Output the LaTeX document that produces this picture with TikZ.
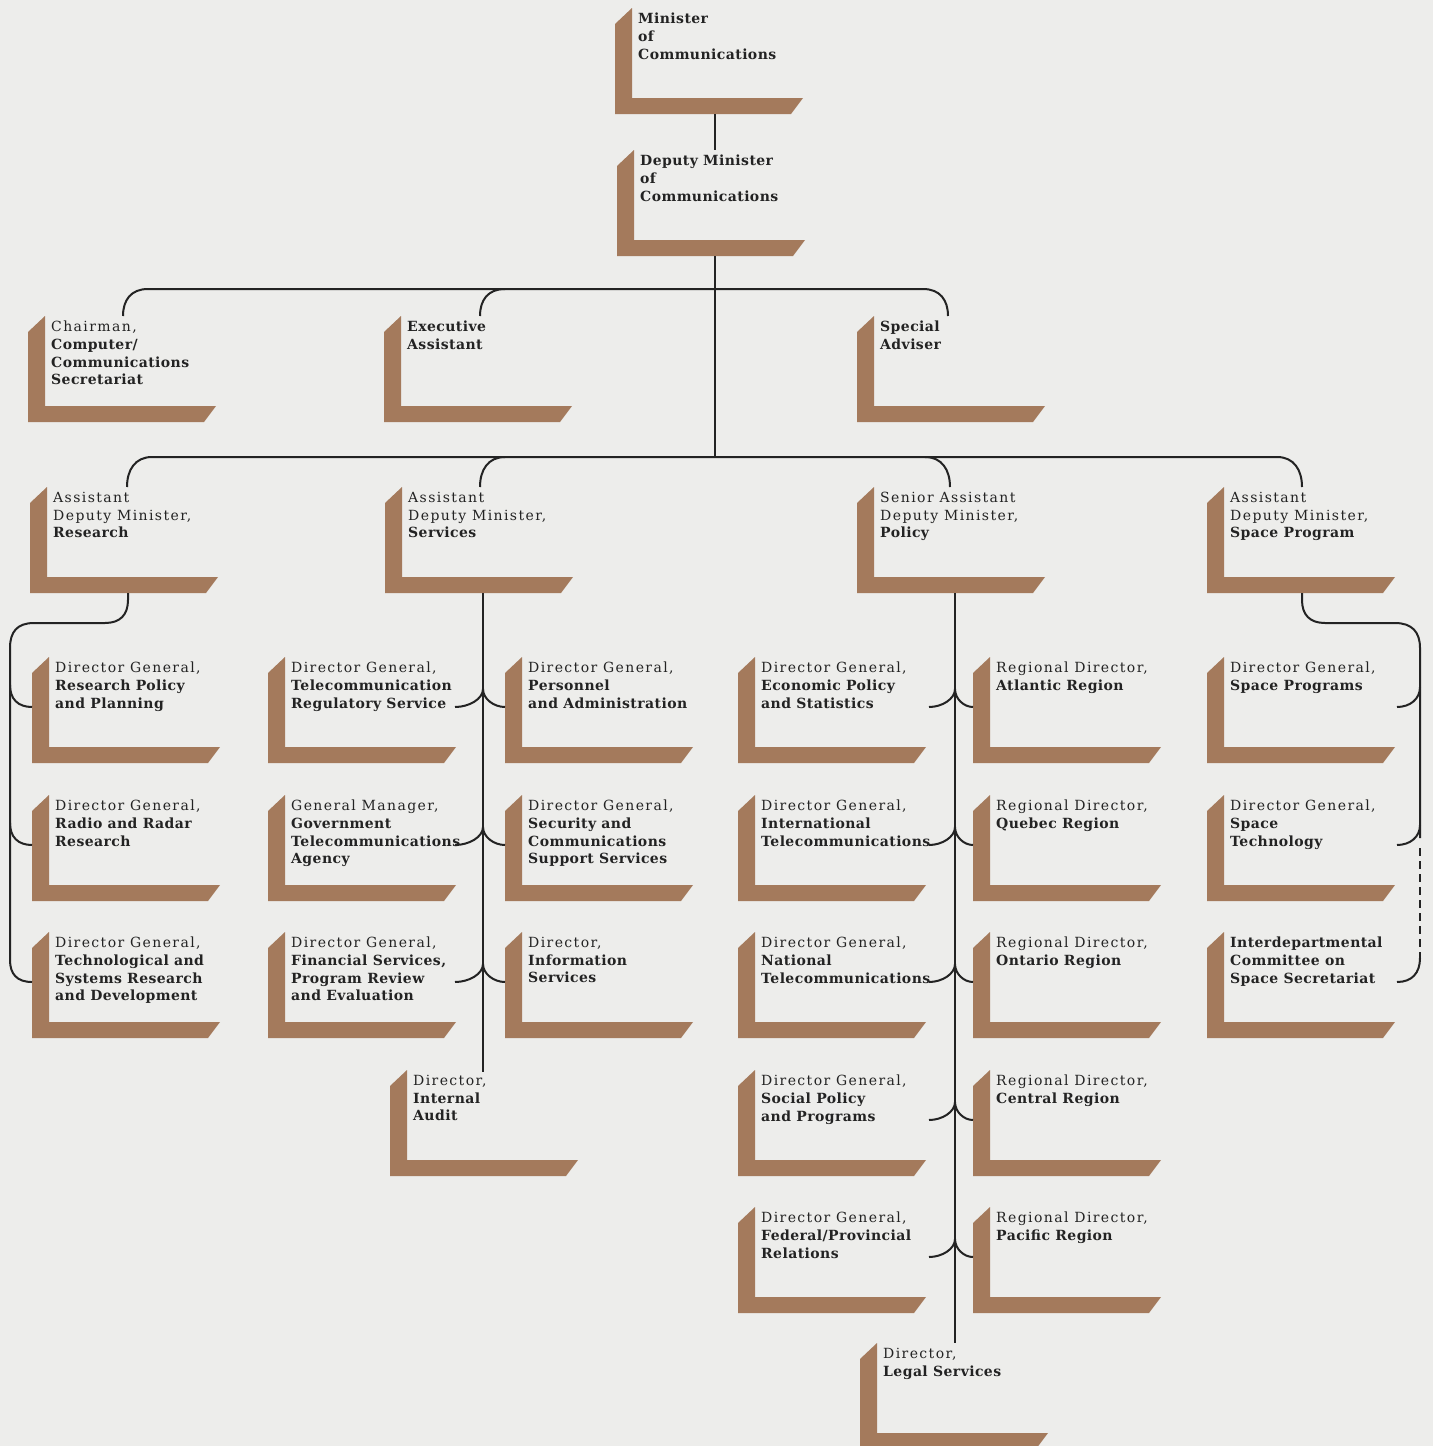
\documentclass[tikz,border=0pt]{standalone}
\usepackage{fontspec}
\setmainfont{DejaVu Serif}[LetterSpace=10, BoldFeatures={LetterSpace=3}]
\definecolor{lbrown}{RGB}{164,122,92}
\definecolor{bgc}{RGB}{237,237,235}
\definecolor{ink}{RGB}{35,35,35}
\newcommand\Lbox[4]{%
  \fill[lbrown] (#2,#3+16) -- (#2+17,#3) -- (#2+17,#3+90) -- (#2+188,#3+90) -- (#2+176,#3+106) -- (#2,#3+106) -- cycle;
  \node[lbl] (#1) at (#2+23,#3+5) {#4};
}
\newcommand\Vbranch[3]{% x of trunk, y of end, x of end
  \draw[conn] (#1,#2-18) .. controls (#1,#2-8) and ({(#1+#3)/2},#2) .. (#3,#2);
}
\begin{document}
\begin{tikzpicture}[x=1pt,y=-1pt,
  conn/.style={draw=ink, line width=2pt},
  lbl/.style={anchor=north west, align=left, inner sep=0pt, text=ink,
    font=\fontsize{14}{17.7}\selectfont}]
\fill[bgc] (0,0) rectangle (1433,1446);
\useasboundingbox (0,0) rectangle (1433,1446);
\clip (0,0) rectangle (1433,1446);

% ---- boxes ----
\Lbox{min}{615}{8}{\textbf{Minister}\\\textbf{of}\\\textbf{Communications}}
\Lbox{dep}{617}{150}{\textbf{Deputy Minister}\\\textbf{of}\\\textbf{Communications}}
\Lbox{chair}{28}{316}{Chairman,\\\textbf{Computer/}\\\textbf{Communications}\\\textbf{Secretariat}}
\Lbox{exec}{384}{316}{\textbf{Executive}\\\textbf{Assistant}}
\Lbox{spec}{857}{316}{\textbf{Special}\\\textbf{Adviser}}
\Lbox{adr}{30}{487}{Assistant\\Deputy Minister,\\\textbf{Research}}
\Lbox{ads}{385}{487}{Assistant\\Deputy Minister,\\\textbf{Services}}
\Lbox{adp}{857}{487}{Senior Assistant\\Deputy Minister,\\\textbf{Policy}}
\Lbox{adsp}{1207}{487}{Assistant\\Deputy Minister,\\\textbf{Space Program}}

\Lbox{a1}{32}{657}{Director General,\\\textbf{Research Policy}\\\textbf{and Planning}}
\Lbox{a2}{32}{795}{Director General,\\\textbf{Radio and Radar}\\\textbf{Research}}
\Lbox{a3}{32}{932}{Director General,\\\textbf{Technological and}\\\textbf{Systems Research}\\\textbf{and Development}}
\Lbox{b1}{268}{657}{Director General,\\\textbf{Telecommunication}\\\textbf{Regulatory Service}}
\Lbox{b2}{268}{795}{General Manager,\\\textbf{Government}\\\textbf{Telecommunications}\\\textbf{Agency}}
\Lbox{b3}{268}{932}{Director General,\\\textbf{Financial Services,}\\\textbf{Program Review}\\\textbf{and Evaluation}}
\Lbox{c1}{505}{657}{Director General,\\\textbf{Personnel}\\\textbf{and Administration}}
\Lbox{c2}{505}{795}{Director General,\\\textbf{Security and}\\\textbf{Communications}\\\textbf{Support Services}}
\Lbox{c3}{505}{932}{Director,\\\textbf{Information}\\\textbf{Services}}
\Lbox{d1}{738}{657}{Director General,\\\textbf{Economic Policy}\\\textbf{and Statistics}}
\Lbox{d2}{738}{795}{Director General,\\\textbf{International}\\\textbf{Telecommunications}}
\Lbox{d3}{738}{932}{Director General,\\\textbf{National}\\\textbf{Telecommunications}}
\Lbox{d4}{738}{1070}{Director General,\\\textbf{Social Policy}\\\textbf{and Programs}}
\Lbox{d5}{738}{1207}{Director General,\\\textbf{Federal/Provincial}\\\textbf{Relations}}
\Lbox{e1}{973}{657}{Regional Director,\\\textbf{Atlantic Region}}
\Lbox{e2}{973}{795}{Regional Director,\\\textbf{Quebec Region}}
\Lbox{e3}{973}{932}{Regional Director,\\\textbf{Ontario Region}}
\Lbox{e4}{973}{1070}{Regional Director,\\\textbf{Central Region}}
\Lbox{e5}{973}{1207}{Regional Director,\\\textbf{Pacific Region}}
\Lbox{f1}{1207}{657}{Director General,\\\textbf{Space Programs}}
\Lbox{f2}{1207}{795}{Director General,\\\textbf{Space}\\\textbf{Technology}}
\Lbox{f3}{1207}{932}{\textbf{Interdepartmental}\\\textbf{Committee on}\\\textbf{Space Secretariat}}
\Lbox{ia}{390}{1070}{Director,\\\textbf{Internal}\\\textbf{Audit}}
\Lbox{legal}{860}{1343}{Director,\\\textbf{Legal Services}}

% ---- connectors ----
\draw[conn] (715,114) -- (715,150);
\draw[conn] (715,256) -- (715,457);
% hub under deputy
\draw[conn] (123,316) .. controls (123,300) and (131,289) .. (148,289) -- (923,289) .. controls (940,289) and (948,300) .. (948,316);
\draw[conn] (480,316) .. controls (480,300) and (488,289) .. (505,289);
% hub of ADMs
\draw[conn] (127,487) .. controls (127,470) and (135,457) .. (152,457) -- (1277,457) .. controls (1294,457) and (1302,470) .. (1302,487);
\draw[conn] (480,487) .. controls (480,470) and (488,457) .. (505,457);
\draw[conn] (925,457) .. controls (942,457) and (950,470) .. (950,487);
% research
\draw[conn] (128,593) -- (128,600) .. controls (128,615) and (120,623) .. (105,623) -- (34,623) .. controls (17,623) and (10,632) .. (10,648) -- (10,960) .. controls (10,974) and (17,982) .. (32,982);
\foreach \yy in {707,845}{\draw[conn] (10,\yy-22) .. controls (10,\yy-8) and (18,\yy) .. (32,\yy);}
% services
\draw[conn] (483,593) -- (483,1072);
\foreach \yy in {707,845,982}{\Vbranch{483}{\yy}{455}\Vbranch{483}{\yy}{505}}
% policy
\draw[conn] (955,593) -- (955,1343);
\foreach \yy in {707,845,982,1120,1257}{\Vbranch{955}{\yy}{929}\Vbranch{955}{\yy}{973}}
% space
\draw[conn] (1302,593) -- (1302,600) .. controls (1302,615) and (1310,623) .. (1325,623) -- (1395,623) .. controls (1412,623) and (1420,632) .. (1420,648) -- (1420,838);
\foreach \yy in {707,845}{\draw[conn] (1420,\yy-20) .. controls (1420,\yy-8) and (1410,\yy) .. (1397,\yy);}
\draw[conn, dash pattern=on 8pt off 5pt] (1420,848) -- (1420,958);
\draw[conn] (1420,958) .. controls (1420,973) and (1412,982) .. (1397,982);
\end{tikzpicture}
\end{document}
